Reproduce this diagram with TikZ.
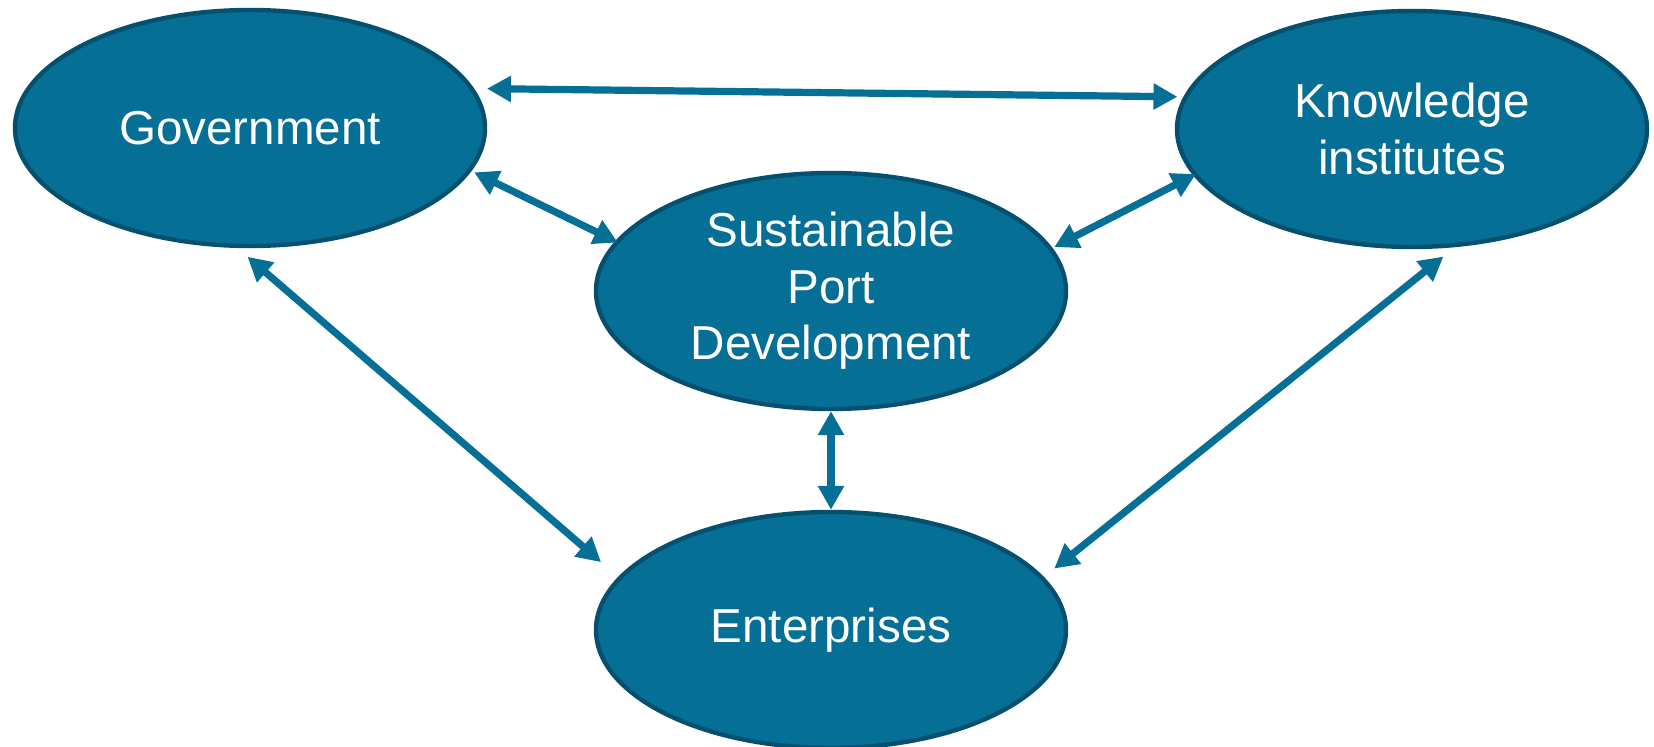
\documentclass[tikz,border=0pt]{standalone}
\usepackage{fontspec}
\setmainfont{Liberation Sans}
\usepackage{tikz}
\usetikzlibrary{shapes.geometric, arrows.meta}
\usepackage{xcolor}
\definecolor{portblue}{RGB}{5,111,150}
\definecolor{portedge}{RGB}{4,80,110}

\begin{document}
\begin{tikzpicture}[x=0.5pt, y=-0.5pt,
    hub/.style={ellipse, draw=portedge, fill=portblue, line width=2.2pt,
        minimum width=235pt, minimum height=118pt, inner sep=0pt,
        text=white, align=center, font=\fontsize{23.8}{28.3}\selectfont},
    link/.style={draw=portblue, line width=3.6pt,
        {Triangle[width=12.5pt,length=12pt]}-{Triangle[width=12.5pt,length=12pt]}}]
            \useasboundingbox (0,0) rectangle (1654,747);
            % the four actors
            \node[hub] (gov) at (250,128) {Government};
            \node[hub] (know) at (1412,129) {Knowledge\\institutes};
            \node[hub] (spd) at (831,291) {Sustainable\\Port\\Development};
            \node[hub] (ent) at (831,630) {Enterprises};
            % two-way links
            \draw[link, shorten <=6.5pt, shorten >=3pt] (gov.10) -- (know.172);
            \draw[link, shorten <=1.5pt, shorten >=-1.5pt] (gov.-11) -- (spd.167);
            \draw[link, shorten <=-1.5pt, shorten >=1pt] (know.192) -- (spd.11);
            \draw[link] (spd.south) -- (ent.north);
            \draw[link, shorten <=6.7pt, shorten >=11.3pt] (gov.-96) -- (ent.166);
            \draw[link, shorten <=7.5pt, shorten >=6.7pt] (know.-70) -- (ent.14);
        \end{tikzpicture}
\end{document}
